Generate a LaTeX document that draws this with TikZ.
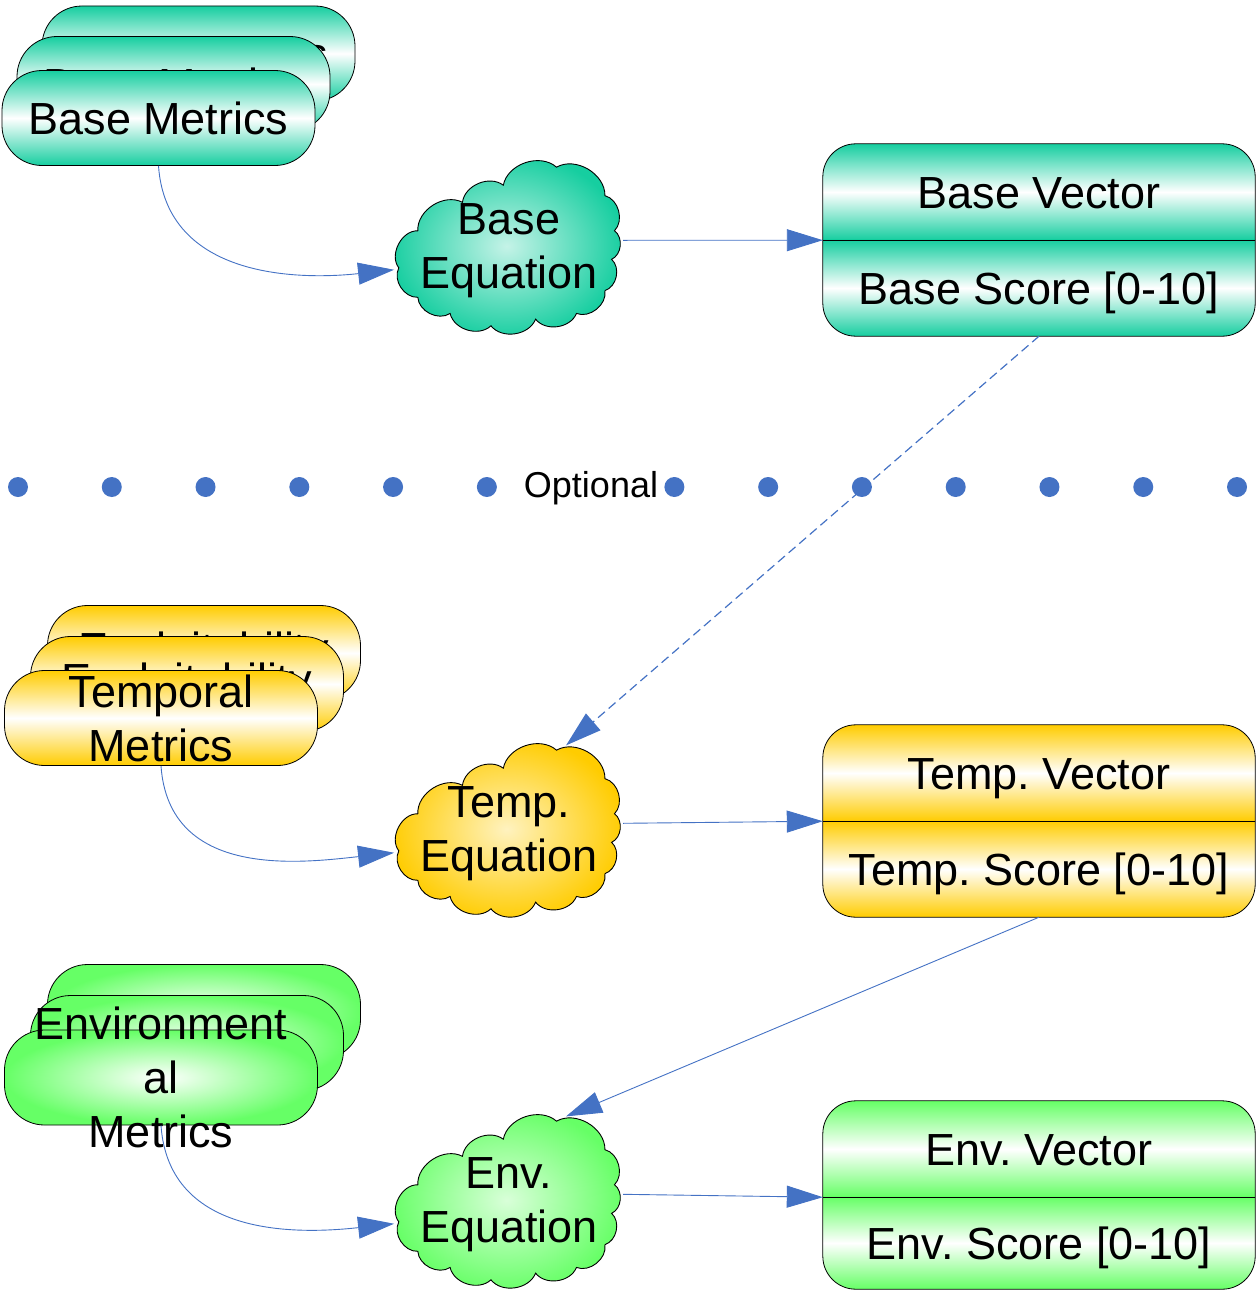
\documentclass[tikz,border=0pt]{standalone}
\usepackage{fontspec}
\setmainfont{Liberation Sans}
\usetikzlibrary{arrows.meta,backgrounds}
\definecolor{cteal}{RGB}{22,206,160}
\definecolor{cyel}{RGB}{255,204,0}
\definecolor{cgreen}{RGB}{102,255,102}
\definecolor{cblue}{RGB}{68,114,196}
\frenchspacing

\tikzset{
  every node/.style={font=\fontsize{45}{54}\selectfont, inner sep=0pt},
  mbox/.style={draw=black, line width=0.8pt, rounded corners=40pt,
    minimum width=313pt, minimum height=95pt},
  vhalf/.style={minimum width=432pt, text height=33pt, text depth=0pt},
  lingrad/.style={top color=#1, bottom color=#1, middle color=white},
  radgrad/.style={inner color=white, outer color=#1},
  conn/.style={draw=cblue, line width=0.9pt, -{Triangle[length=36pt,width=22pt]}},
  dashconn/.style={conn, dash pattern=on 9pt off 5pt, line width=1.2pt},
  dotline/.style={draw=cblue, line width=20pt, line cap=round, dash pattern=on 0pt off 93.77pt},
  txtlab/.style={align=center}
}

% #1 centre coordinate, #2 colour, #3 prefix for anchors
\newcommand\drawcloud[3]{%
  \begin{scope}[shift={(#1)}, scale=0.95]
  \shade[draw=black, line width=0.9pt, inner color=#2!25!white, outer color=#2]
    (-116,23)
    to[bend left=65] (-96,-16)
    to[bend left=60] (-49,-46)
    to[bend left=60] (-6,-64)
    to[bend left=60] (50,-83)
    to[bend left=60] (101,-53)
    to[bend left=60] (111,-16)
    to[bend left=60] (108,14)
    to[bend left=60] (101,47)
    to[bend left=60] (71,71)
    to[bend left=60] (28,77)
    to[bend left=60] (-19,84)
    to[bend left=60] (-62,71)
    to[bend left=60] (-96,54)
    to[bend left=60] (-116,23) -- cycle;
  \coordinate (#3-in) at (-121,25);
  \coordinate (#3-out) at (120,-6);
  \coordinate (#3-top) at (60,-88);
  \coordinate (#3-txt) at (0,5);
  \end{scope}
}

% #1 top half, #2 bottom half, #3 colour
\newcommand\vecframe[3]{%
  \begin{pgfonlayer}{background}
    \begin{scope}
      \clip[rounded corners=33pt] (#1.north west) rectangle (#2.south east);
      \shade[lingrad=#3] (#1.north west) rectangle (#1.south east);
      \shade[lingrad=#3] (#2.north west) rectangle (#2.south east);
    \end{scope}
    \draw[line width=0.8pt, rounded corners=33pt] (#1.north west) rectangle (#2.south east);
    \draw[line width=0.8pt] (#1.south west) -- (#1.south east);
  \end{pgfonlayer}
}

\begin{document}
\begin{tikzpicture}[x=1pt, y=-1pt]
\useasboundingbox (0,0) rectangle (1258,1290);

% ---------- Base metrics stack
\node[mbox, lingrad=cteal] (bm3) at (198.5,53.5) {Base Metrics};
\node[mbox, lingrad=cteal] (bm2) at (173.5,84) {Base Metrics};
\node[mbox, lingrad=cteal] (bm1) at (158.5,118) {Base Metrics};

% ---------- Temporal metrics stack
\node[mbox, lingrad=cyel] (tm3) at (204,653) {Exploitability};
\node[mbox, lingrad=cyel] (tm2) at (187,684) {Exploitability};
\node[mbox, lingrad=cyel] (tm1) at (161,718) {};
\node[txtlab] (tmt) at (tm1.center) {Temporal\\Metrics};

% ---------- Environmental metrics stack
\node[mbox, radgrad=cgreen] (em3) at (204,1012) {};
\node[mbox, radgrad=cgreen] (em2) at (187,1043) {};
\node[mbox, radgrad=cgreen] (em1) at (161,1077.5) {};
\node[txtlab] (emt) at (em1.center) {Environment\\al\\Metrics};

% ---------- Clouds
\coordinate (bc) at (509,246);
\drawcloud{bc}{cteal}{bc}
\node[txtlab] (beq) at (bc-txt) {Base\\Equation};

\coordinate (tc) at (509,829);
\drawcloud{tc}{cyel}{tc}
\node[txtlab] (teq) at (tc-txt) {Temp.\\Equation};

\coordinate (ec) at (509,1200);
\drawcloud{ec}{cgreen}{ec}
\node[txtlab] (eeq) at (ec-txt) {Env.\\Equation};

% ---------- Vector boxes
\node[vhalf, minimum height=96pt] (bvt) at (1039,192) {Base Vector};
\node[vhalf, minimum height=96pt] (bvb) at (1039,288) {Base Score [0-10]};
\vecframe{bvt}{bvb}{cteal}

\node[vhalf, minimum height=96pt] (tvt) at (1039,773) {Temp. Vector};
\node[vhalf, minimum height=96pt] (tvb) at (1039,869) {Temp. Score [0-10]};
\vecframe{tvt}{tvb}{cyel}

\node[vhalf, minimum height=96pt] (evt) at (1039,1149) {Env. Vector};
\node[vhalf, minimum height=92pt] (evb) at (1039,1243) {Env. Score [0-10]};
\vecframe{evt}{evb}{cgreen}

% ---------- Connectors
\draw[conn] (bm1.south) .. controls +(8,114) and +(-92,10) .. (bc-in);
\draw[conn] (tm1.south) .. controls +(8,114) and +(-92,10) .. (tc-in);
\draw[conn] (em1.south) .. controls +(8,114) and +(-92,10) .. (ec-in);

\draw[conn] (bc-out) -- (bvt.south west);
\draw[conn] (tc-out) -- (tvt.south west);
\draw[conn] (ec-out) -- (evt.south west);

\draw[dashconn] (bvb.south) -- (tc-top);
\draw[conn] (tvb.south) -- (ec-top);

% ---------- Optional separator
\coordinate (dl) at (18,487);
\coordinate (dr) at (1238,487);
\draw[dotline] (dl) -- (dr);
\node[fill=white, inner xsep=3pt, inner ysep=2pt, font=\fontsize{36}{40}\selectfont] (opt) at (591,488) {Optional};

\end{tikzpicture}
\end{document}
